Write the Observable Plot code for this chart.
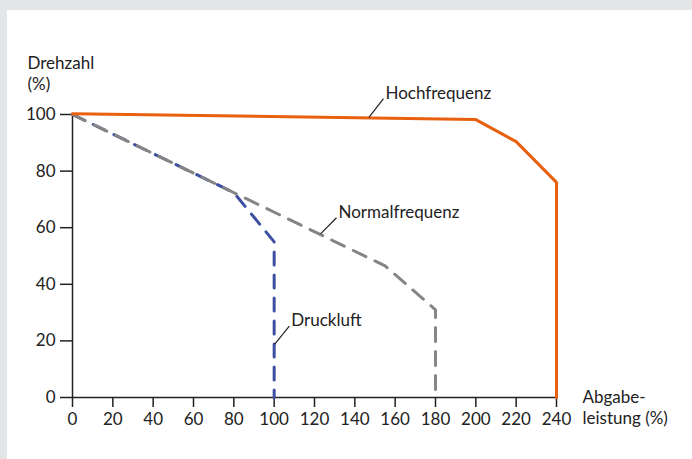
<!DOCTYPE html>
<html>
<head>
<meta charset="utf-8">
<script src="https://cdn.jsdelivr.net/npm/d3@7"></script>
<script src="https://cdn.jsdelivr.net/npm/@observablehq/plot@0.6"></script>
<style>
  html, body { margin: 0; padding: 0; background: #e4e5e7; width: 692px; height: 459px; overflow: hidden; }
  #panel { position: absolute; left: 7px; top: 10px; width: 685px; height: 449px; background: #ffffff; }
</style>
</head>
<body>
<div id="panel"></div>
<script>
// Tick values
const xTicks = [0, 20, 40, 60, 80, 100, 120, 140, 160, 180, 200, 220, 240];
const yTicks = [0, 20, 40, 60, 80, 100];

// Series: Hochfrequenz (solid orange)
const hochX = [0, 200, 220, 240, 240];
const hochY = [100.3, 98.2, 90.4, 76, 0];
// Series: Normalfrequenz (grey dashed)
const normalX = [0, 155, 180, 180];
const normalY = [100, 46.5, 31, 0];
// Series: Druckluft (blue dashed)
const druckX = [0, 80, 100, 100];
const druckY = [100, 72.4, 55, 0];

// Annotation labels with leader lines (data units)
const labelNames = ["Hochfrequenz", "Normalfrequenz", "Druckluft"];
const labelFromX = [147, 123, 100.2];
const labelFromY = [99.0, 57.8, 18.8];
const labelToX = [154.2, 130.9, 107.5];
const labelToY = [105.6, 63.5, 25.2];

// Axis titles
const yTitle = "Drehzahl\n(%)";
const xTitle = "Abgabe-\nleistung (%)";

const toPts = (xs, ys) => xs.map((x, i) => ({x, y: ys[i]}));
const labels = labelNames.map((name, i) => ({
  name, x1: labelFromX[i], y1: labelFromY[i], x2: labelToX[i], y2: labelToY[i]
}));

const ink = "#222222";
const fs = 17;

const chart = Plot.plot({
  width: 685,
  height: 449,
  marginLeft: 65,
  marginRight: 136,
  marginTop: 104,
  marginBottom: 62,
  style: { fontFamily: "Lato, sans-serif", fontSize: fs + "px", color: ink, background: "transparent", overflow: "visible" },
  x: { domain: [0, 240] },
  y: { domain: [0, 100] },
  marks: [
    Plot.axisX({ ticks: xTicks, tickSize: 10, tickPadding: 5, label: null, stroke: ink, strokeWidth: 1.5, fill: ink, fontSize: fs }),
    Plot.axisY({ ticks: yTicks, tickSize: 12, tickPadding: 5, label: null, stroke: ink, strokeWidth: 1.5, fill: ink, fontSize: fs }),
    Plot.ruleX([0], { y1: 0, y2: 100, stroke: ink, strokeWidth: 1.5 }),
    Plot.ruleY([0], { x1: 0, x2: 240, stroke: ink, strokeWidth: 1.5 }),
    Plot.line(toPts(druckX, druckY), { x: "x", y: "y", stroke: "#3c4fa0", strokeWidth: 3, strokeDasharray: "13,10" }),
    Plot.line(toPts(normalX, normalY), { x: "x", y: "y", stroke: "#858585", strokeWidth: 3, strokeDasharray: "14,10" }),
    Plot.line(toPts(hochX, hochY), { x: "x", y: "y", stroke: "#e8600f", strokeWidth: 3, strokeLinejoin: "miter" }),
    Plot.link(labels, { x1: "x1", y1: "y1", x2: "x2", y2: "y2", stroke: ink, strokeWidth: 1.2 }),
    Plot.text(labels, { x: "x2", y: "y2", text: "name", textAnchor: "start", lineAnchor: "bottom", dx: 2, dy: 0, fill: ink, fontSize: fs }),
    Plot.text([yTitle], { frameAnchor: "top-left", textAnchor: "start", lineAnchor: "bottom", lineHeight: 1.18, dx: -45, dy: -25, fill: ink, fontSize: fs }),
    Plot.text([xTitle], { frameAnchor: "bottom-right", textAnchor: "start", lineAnchor: "bottom", lineHeight: 1.18, dx: 26, dy: 26, fill: ink, fontSize: fs })
  ]
});
document.getElementById("panel").appendChild(chart);
</script>
</body>
</html>
